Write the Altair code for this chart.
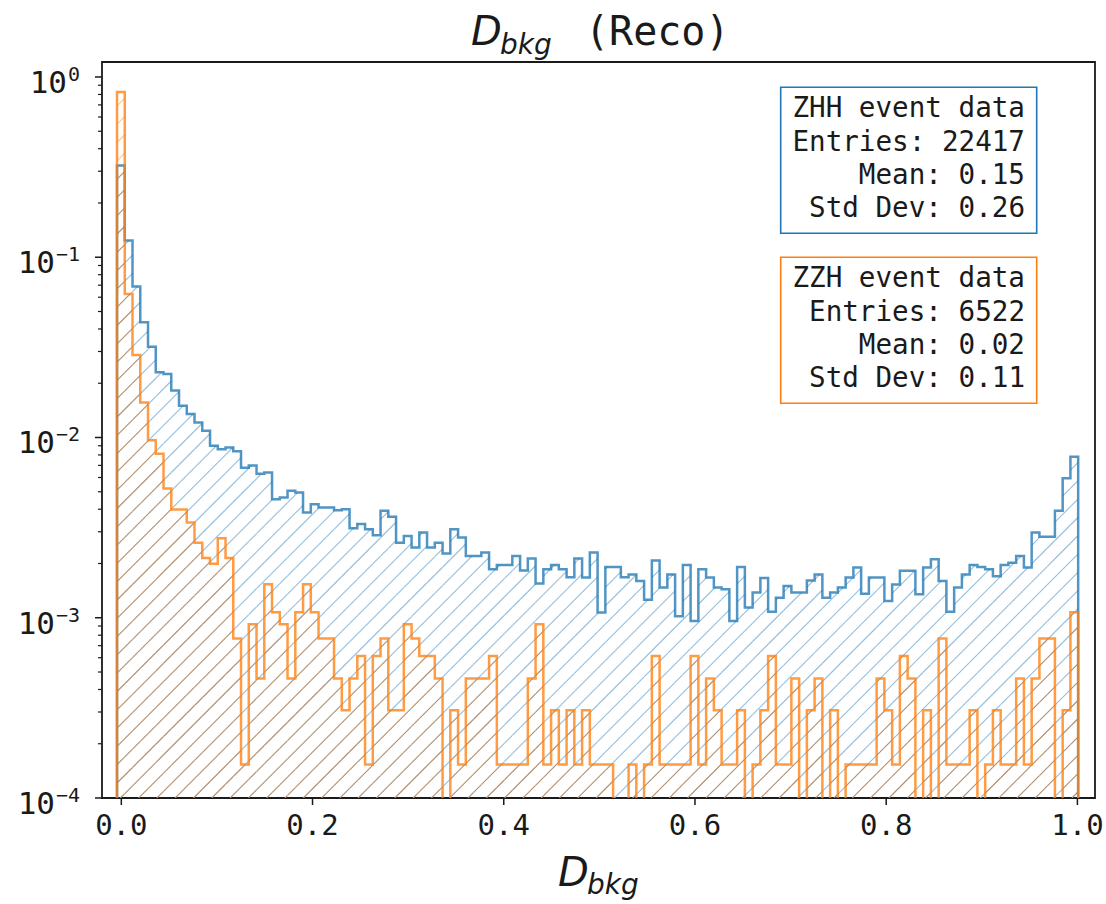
import altair as alt
import numpy as np
import pandas as pd

# ---------------- data ----------------
N_BINS = 124
EDGE_FIRST = -0.0045
EDGE_LAST = 1.0008

zhh_entries = 22417
zzh_entries = 6522

# ZHH: fraction of entries per bin
zhh_fraction = [
    0.323, 0.124, 0.0688, 0.0436, 0.0319, 0.0230, 0.0225, 0.0182, 0.0150, 0.0135,
    0.0121, 0.0109, 0.0090, 0.0086, 0.0088, 0.0084, 0.0068, 0.0070, 0.0063, 0.0064,
    0.00455, 0.00464, 0.00506, 0.00495, 0.00383, 0.00426, 0.00409, 0.00409, 0.00395, 0.00400,
    0.00314, 0.00331, 0.00310, 0.00287, 0.00392, 0.00363, 0.00261, 0.00284, 0.00245, 0.00297,
    0.00245, 0.00261, 0.00227, 0.00310, 0.00279, 0.00220, 0.00220, 0.00230, 0.00186, 0.00196,
    0.00196, 0.00220, 0.00183, 0.00213, 0.00155, 0.00186, 0.00196, 0.00186, 0.00168, 0.00213,
    0.00167, 0.00230, 0.00107, 0.00191, 0.00191, 0.00168, 0.00174, 0.00160, 0.00126, 0.00208,
    0.00147, 0.00174, 0.00102, 0.00196, 0.00096, 0.00186, 0.00167, 0.00147, 0.00144, 0.00096,
    0.00191, 0.00114, 0.00138, 0.00166, 0.00108, 0.00129, 0.00150, 0.00138, 0.00138, 0.00161,
    0.00174, 0.00129, 0.00138, 0.00147, 0.00167, 0.00190, 0.00136, 0.00167, 0.00167, 0.00124,
    0.00153, 0.00182, 0.00182, 0.00135, 0.00190, 0.00211, 0.00160, 0.00108, 0.00147, 0.00174,
    0.00196, 0.00191, 0.00186, 0.00170, 0.00196, 0.00202, 0.00220, 0.00190, 0.00297, 0.00281,
    0.00281, 0.00392, 0.00595, 0.00782,
]

# ZZH: counts per bin
zzh_counts = [
    5381, 408, 187, 102, 63, 53, 34, 26, 26, 22,
    17, 14, 13, 18, 14, 5, 1, 6, 3, 10,
    7, 6, 3, 7, 10, 7, 5, 5, 3, 2,
    3, 4, 1, 4, 5, 2, 2, 6, 5, 4,
    4, 3, 0, 2, 1, 3, 3, 3, 4, 1,
    1, 1, 1, 3, 6, 1, 2, 1, 2, 1,
    2, 1, 1, 1, 0, 0, 1, 0, 1, 4,
    1, 1, 1, 1, 4, 1, 3, 2, 1, 1,
    2, 0, 1, 2, 4, 1, 1, 3, 0, 2,
    3, 0, 2, 0, 1, 1, 1, 1, 3, 2,
    1, 4, 3, 0, 2, 0, 5, 1, 1, 1,
    2, 0, 1, 2, 1, 1, 3, 1, 3, 5,
    5, 0, 2, 7,
]

x_ticks = [0.0, 0.2, 0.4, 0.6, 0.8, 1.0]
x_tick_labels = ["0.0", "0.2", "0.4", "0.6", "0.8", "1.0"]
y_major = [1e-4, 1e-3, 1e-2, 1e-1, 1.0]
y_major_base = ["10", "10", "10", "10", "10"]
y_major_exp = ["−4", "−3", "−2", "−1", "0"]
box_zhh = ["ZHH event data", "Entries: 22417", "Mean: 0.15", "Std Dev: 0.26"]
box_zzh = ["ZZH event data", "Entries: 6522", "Mean: 0.02", "Std Dev: 0.11"]
title_main = "D"
title_sub = "bkg"
title_rest = "(Reco)"

assert len(zhh_fraction) == N_BINS and len(zzh_counts) == N_BINS

# ---------------- layout ----------------
PW, PH = 993, 736
PAD = {"left": 102, "top": 62, "right": 11, "bottom": 106}
X_DOM = [-0.0202, 1.0184]
Y_DOM = [1e-4, 1.211]
TINY = 1e-7

BLUE = "#1f77b4"
ORANGE = "#ff7f0e"
HATCH_BOTH = "#b4906f"
HATCH_BLUE = "#96c0df"
HATCH_ORANGE = "#ffc793"
INK = "#1a1a1a"
MONO = "DejaVu Sans Mono"
SANS = "DejaVu Sans"

edges = np.linspace(EDGE_FIRST, EDGE_LAST, N_BINS + 1)
zhh_v = np.array(zhh_fraction, dtype=float)
zzh_v = np.array(zzh_counts, dtype=float) / zzh_entries

xs = alt.Scale(domain=X_DOM, nice=False, zero=False)
ys = alt.Scale(type="log", domain=Y_DOM, nice=False)

# ---------------- hatch (45 deg lines clipped to each bin column) ----------------
L0, L1 = np.log10(Y_DOM[0]), np.log10(Y_DOM[1])


def u_of(x):
    return (x - X_DOM[0]) / (X_DOM[1] - X_DOM[0]) * PW


def x_of(u):
    return X_DOM[0] + u / PW * (X_DOM[1] - X_DOM[0])


def w_of(v):
    if v <= 0:
        return 0.0
    return float(np.clip((np.log10(v) - L0) / (L1 - L0) * PH, 0, PH))


def v_of(w):
    return 10 ** (L0 + w / PH * (L1 - L0))


HATCH_STEP = 18.3
HATCH_PHASE = 0.0


def segs(ua, ub, wl, wh, cat, out):
    if wh <= wl:
        return
    kmin = int(np.floor((ua - wh - HATCH_PHASE) / HATCH_STEP))
    kmax = int(np.ceil((ub - wl - HATCH_PHASE) / HATCH_STEP))
    for k in range(kmin, kmax + 1):
        c = HATCH_PHASE + k * HATCH_STEP
        ws = max(wl, ua - c)
        we = min(wh, ub - c)
        if we > ws:
            out.append({"x": x_of(ws + c), "y": v_of(ws), "x2": x_of(we + c),
                        "y2": v_of(we), "cat": cat})


rows = []
for i in range(N_BINS):
    ua, ub = u_of(edges[i]), u_of(edges[i + 1])
    wb = w_of(zhh_v[i])
    wo = w_of(zzh_v[i])
    lo = min(wb, wo)
    segs(ua, ub, 0.0, lo, "both", rows)
    if wb > wo:
        segs(ua, ub, lo, wb, "blue", rows)
    else:
        segs(ua, ub, lo, wo, "orange", rows)
hatch = pd.DataFrame(rows)


def hatch_layer(cat, color):
    return alt.Chart(hatch[hatch["cat"] == cat]).mark_rule(
        strokeWidth=1.15, clip=True, color=color
    ).encode(
        x=alt.X("x:Q", scale=xs, axis=None),
        y=alt.Y("y:Q", scale=ys, axis=None),
        x2="x2:Q",
        y2="y2:Q",
    )


# ---------------- axes drawn as marks on the shared scales ----------------
TICK_LEN = 7
xt = pd.DataFrame({"x": x_ticks, "lab": x_tick_labels})
x_tick_marks = alt.Chart(xt).mark_rule(color=INK, strokeWidth=1.5).encode(
    x=alt.X("x:Q", scale=xs, axis=None),
    y=alt.value(PH), y2=alt.value(PH + TICK_LEN),
)
x_tick_text = alt.Chart(xt).mark_text(
    font=MONO, fontSize=29, color=INK, align="center", baseline="top"
).encode(
    x=alt.X("x:Q", scale=xs, axis=None), y=alt.value(PH + TICK_LEN + 7), text="lab:N"
)

yt = pd.DataFrame({"y": y_major, "base": y_major_base, "exp": y_major_exp,
                   "n": [len(s) for s in y_major_exp]})
y_tick_marks = alt.Chart(yt).mark_rule(color=INK, strokeWidth=1.5).encode(
    y=alt.Y("y:Q", scale=ys, axis=None),
    x=alt.value(-TICK_LEN), x2=alt.value(0),
)
EXP_RIGHT = -22
EXP_CHAR = 12.0
y_exp_text = alt.Chart(yt).mark_text(
    font=MONO, fontSize=20, color=INK, align="right", baseline="alphabetic", dy=4
).encode(
    y=alt.Y("y:Q", scale=ys, axis=None), x=alt.value(EXP_RIGHT), text="exp:N"
)


def base_layer(n):
    return alt.Chart(yt[yt["n"] == n]).mark_text(
        font=MONO, fontSize=31, color=INK, align="right", baseline="alphabetic", dy=16
    ).encode(
        y=alt.Y("y:Q", scale=ys, axis=None),
        x=alt.value(EXP_RIGHT - EXP_CHAR * n - 1), text="base:N"
    )


minor_vals = [round(k * 10.0 ** e, 10) for e in range(-4, 0) for k in range(2, 10)]
minor_ticks = alt.Chart(pd.DataFrame({"y": minor_vals})).mark_rule(
    color=INK, strokeWidth=1.2
).encode(
    x=alt.value(-4), x2=alt.value(0),
    y=alt.Y("y:Q", scale=ys, axis=None),
)


# ---------------- step outlines ----------------
def step_frame(vals):
    xs_ = [edges[0]] + list(edges[:-1]) + [edges[-1], edges[-1]]
    vs_ = [TINY] + [v if v > 0 else TINY for v in vals] + [vals[-1] if vals[-1] > 0 else TINY, TINY]
    return pd.DataFrame({"x": xs_, "y": vs_, "idx": range(len(xs_))})


def step_layer(vals, color):
    return alt.Chart(step_frame(vals)).mark_line(
        interpolate="step-after", clip=True, strokeWidth=2.5, color=color, opacity=0.78
    ).encode(
        x=alt.X("x:Q", scale=xs, axis=None),
        y=alt.Y("y:Q", scale=ys, axis=None),
        order=alt.Order("idx:Q"),
    )


blue_line = step_layer(zhh_v, BLUE)
orange_line = step_layer(zzh_v, ORANGE)


# ---------------- text helpers ----------------
def txt(s, x, y, font, size, style="normal", align="left"):
    return alt.Chart(pd.DataFrame({"t": [s]})).mark_text(
        align=align, baseline="alphabetic", font=font, fontSize=size, fontStyle=style,
        color=INK
    ).encode(x=alt.value(x), y=alt.value(y), text="t:N")


# ---------------- stat boxes ----------------
BOX_X1, BOX_X2 = 678.7, 934.7
TEXT_RIGHT = 923
LINE_H = 33.3


def stat_box(lines, top, color):
    rect = alt.Chart(pd.DataFrame({"t": [lines[0]]})).mark_rect(
        fillOpacity=0, stroke=color, strokeWidth=1.6
    ).encode(x=alt.value(BOX_X1), x2=alt.value(BOX_X2), y=alt.value(top), y2=alt.value(top + 146))
    layers = [rect]
    for i, s in enumerate(lines):
        layers.append(txt(s, TEXT_RIGHT, top + 30.0 + i * LINE_H, MONO, 27.6, align="right"))
    return alt.layer(*layers)


box1 = stat_box(box_zhh, 25.3, BLUE)
box2 = stat_box(box_zzh, 195.3, ORANGE)

# ---------------- title and x label (math-style subscripts) ----------------
title = (
    txt(title_main, 369, -17, SANS, 40, "italic")
    + txt(title_sub, 398, -8, SANS, 28, "italic")
    + txt(title_rest, 483, -17, MONO, 40)
)
xlabel = (
    txt(title_main, 456, 824, SANS, 40, "italic")
    + txt(title_sub, 485, 832, SANS, 28, "italic")
)

chart = alt.layer(
    hatch_layer("both", HATCH_BOTH),
    hatch_layer("blue", HATCH_BLUE),
    hatch_layer("orange", HATCH_ORANGE),
    blue_line,
    orange_line,
    x_tick_marks,
    x_tick_text,
    y_tick_marks,
    y_exp_text,
    base_layer(1),
    base_layer(2),
    minor_ticks,
    box1,
    box2,
    title,
    xlabel,
).properties(
    width=PW, height=PH, padding=PAD, background="white",
    autosize=alt.AutoSizeParams(type="none"),
).configure_view(
    stroke=INK, strokeWidth=1.8
)

chart.save("out.html", embed_options={"renderer": "svg", "actions": False})
